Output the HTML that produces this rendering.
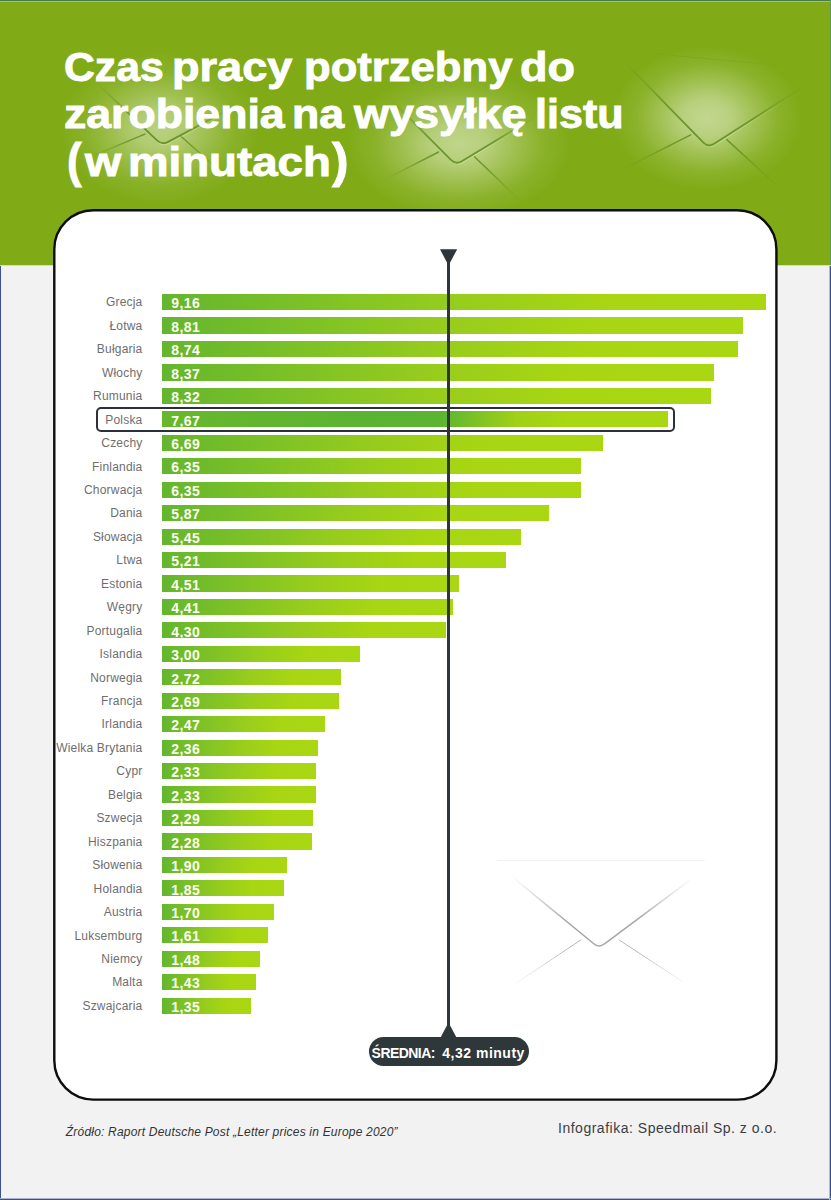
<!DOCTYPE html>
<html lang="pl"><head><meta charset="utf-8"><title>Czas pracy potrzebny do zarobienia na wysyłkę listu</title>
<style>
*{box-sizing:border-box;margin:0;padding:0}
html,body{width:831px;height:1200px;overflow:hidden}
body{position:relative;background:#f2f2f2;font-family:"Liberation Sans",sans-serif}
.abs{position:absolute}
#hdr{left:0;top:0;width:831px;height:265px;background:#80ab17;overflow:hidden}
.glow{position:absolute;border-radius:50%}
.tw{position:absolute;color:#fff;font-weight:bold;font-size:41px;line-height:48px;white-space:nowrap;transform-origin:0 0;-webkit-text-stroke:.9px #fff}
#card{left:54px;top:209px;width:723px;height:889px;background:#fff;border:2px solid #0d0d0d;border-radius:40px}
.lab{position:absolute;left:0;width:142.5px;text-align:right;font-size:12px;line-height:16px;padding-top:.4px;color:#6e6e6e;letter-spacing:.2px;white-space:nowrap}
.bar{position:absolute;left:162px;height:16.2px;background:linear-gradient(90deg,#64b62f 0%,#98cd1d 50%,#a8d612 74%,#a9d712 100%)}
.val{position:absolute;left:171.3px;font-size:14px;font-weight:bold;line-height:16px;color:#fdfff0;letter-spacing:.45px;white-space:nowrap}
#pl{left:96px;top:407px;width:579px;height:25px;border:2px solid #2c303a;border-radius:5px}
#ln{left:447px;top:258px;width:3px;height:770px;background:#2f353b}
#pill{left:369px;top:1037px;width:160px;height:29px;border-radius:14.5px;background:#2e3739}
.pt{top:1039.2px;color:#fff;font-weight:bold;font-size:14px;line-height:29px;white-space:nowrap}
#src{left:65.8px;top:1123.5px;font-style:italic;font-size:12px;line-height:16px;color:#333;letter-spacing:.2px;white-space:nowrap}
#inf{left:558px;top:1118.8px;font-size:14px;line-height:18px;color:#3a3f45;letter-spacing:.51px;white-space:nowrap}
</style></head><body>
<div id="hdr" class="abs">
<svg class="abs" style="left:0;top:0" width="831" height="266" viewBox="0 0 831 266"><defs><radialGradient id="g1" cx="160" cy="128" r="100" gradientUnits="userSpaceOnUse" gradientTransform="translate(0 128) scale(1 0.760) translate(0 -128)"><stop offset="0" stop-color="#fff" stop-opacity="0.45"/><stop offset=".25" stop-color="#fff" stop-opacity="0.387"/><stop offset=".5" stop-color="#fff" stop-opacity="0.225"/><stop offset=".75" stop-color="#fff" stop-opacity="0.077"/><stop offset="1" stop-color="#fff" stop-opacity="0"/></radialGradient><radialGradient id="l1" cx="160" cy="128" r="80" gradientUnits="userSpaceOnUse"><stop offset="0" stop-color="#5f8a22" stop-opacity=".95"/><stop offset=".45" stop-color="#648f20" stop-opacity=".8"/><stop offset="1" stop-color="#6f9a1c" stop-opacity="0"/></radialGradient><radialGradient id="h1" cx="160" cy="128" r="64" gradientUnits="userSpaceOnUse"><stop offset="0" stop-color="#e4f2c0" stop-opacity=".55"/><stop offset="1" stop-color="#e4f2c0" stop-opacity="0"/></radialGradient><radialGradient id="g2" cx="459" cy="144" r="112" gradientUnits="userSpaceOnUse" gradientTransform="translate(0 144) scale(1 0.661) translate(0 -144)"><stop offset="0" stop-color="#fff" stop-opacity="0.5"/><stop offset=".25" stop-color="#fff" stop-opacity="0.430"/><stop offset=".5" stop-color="#fff" stop-opacity="0.250"/><stop offset=".75" stop-color="#fff" stop-opacity="0.085"/><stop offset="1" stop-color="#fff" stop-opacity="0"/></radialGradient><radialGradient id="l2" cx="459" cy="144" r="85" gradientUnits="userSpaceOnUse"><stop offset="0" stop-color="#5f8a22" stop-opacity=".95"/><stop offset=".45" stop-color="#648f20" stop-opacity=".8"/><stop offset="1" stop-color="#6f9a1c" stop-opacity="0"/></radialGradient><radialGradient id="h2" cx="459" cy="144" r="68" gradientUnits="userSpaceOnUse"><stop offset="0" stop-color="#e4f2c0" stop-opacity=".55"/><stop offset="1" stop-color="#e4f2c0" stop-opacity="0"/></radialGradient><radialGradient id="g3" cx="707" cy="118" r="95" gradientUnits="userSpaceOnUse" gradientTransform="translate(0 118) scale(1 0.758) translate(0 -118)"><stop offset="0" stop-color="#fff" stop-opacity="0.52"/><stop offset=".25" stop-color="#fff" stop-opacity="0.447"/><stop offset=".5" stop-color="#fff" stop-opacity="0.260"/><stop offset=".75" stop-color="#fff" stop-opacity="0.088"/><stop offset="1" stop-color="#fff" stop-opacity="0"/></radialGradient><radialGradient id="l3" cx="707" cy="118" r="105" gradientUnits="userSpaceOnUse"><stop offset="0" stop-color="#5f8a22" stop-opacity=".95"/><stop offset=".45" stop-color="#648f20" stop-opacity=".8"/><stop offset="1" stop-color="#6f9a1c" stop-opacity="0"/></radialGradient><radialGradient id="h3" cx="707" cy="118" r="84" gradientUnits="userSpaceOnUse"><stop offset="0" stop-color="#e4f2c0" stop-opacity=".55"/><stop offset="1" stop-color="#e4f2c0" stop-opacity="0"/></radialGradient></defs><ellipse cx="160" cy="128" rx="100" ry="76" fill="url(#g1)"/><path d="M144.8 134.1L96 154.6M180.9 136.3L212 164" stroke="url(#l1)" stroke-width="1.5" fill="none" stroke-linecap="round"/><path d="M96.0 82.5L156.9 140.4Q162.0 145.2 168.2 141.9L256.0 95.0" transform="translate(0.6 1.3)" stroke="url(#h1)" stroke-width="1.2" fill="none"/><path d="M96.0 82.5L156.9 140.4Q162.0 145.2 168.2 141.9L256.0 95.0" stroke="url(#l1)" stroke-width="1.9" fill="none" stroke-linecap="round"/><ellipse cx="459" cy="144" rx="112" ry="74" fill="url(#g2)"/><path d="M438.6 152L371.3 186.4M474.5 156.7L521.5 202" stroke="url(#l2)" stroke-width="1.5" fill="none" stroke-linecap="round"/><path d="M380.7 89.4L450.9 159.8Q455.8 164.8 461.8 161.2L534.0 117.5" transform="translate(0.6 1.3)" stroke="url(#h2)" stroke-width="1.2" fill="none"/><path d="M380.7 89.4L450.9 159.8Q455.8 164.8 461.8 161.2L534.0 117.5" stroke="url(#l2)" stroke-width="1.9" fill="none" stroke-linecap="round"/><ellipse cx="707" cy="118" rx="95" ry="72" fill="url(#g3)"/><path d="M690.7 134.8L622 169.7M726.8 139.6L785 193" stroke="url(#l3)" stroke-width="1.5" fill="none" stroke-linecap="round"/><path d="M625.0 62.5L703.4 142.6Q708.3 147.6 714.2 143.8L814.0 80.0" transform="translate(0.6 1.3)" stroke="url(#h3)" stroke-width="1.2" fill="none"/><path d="M625.0 62.5L703.4 142.6Q708.3 147.6 714.2 143.8L814.0 80.0" stroke="url(#l3)" stroke-width="1.9" fill="none" stroke-linecap="round"/><path d="M625 51L818 69" stroke="url(#l3)" stroke-width="1" fill="none" opacity=".5"/></svg>
</div>
<div class="tw" style="left:64.37px;top:42.60px;transform:scaleX(1.0407)">Czas</div>
<div class="tw" style="left:171.92px;top:42.60px;transform:scaleX(1.1006)">pracy</div>
<div class="tw" style="left:303.53px;top:42.60px;transform:scaleX(1.0638)">potrzebny</div>
<div class="tw" style="left:519.75px;top:42.60px;transform:scaleX(1.0970)">do</div>
<div class="tw" style="left:64.17px;top:89.60px;transform:scaleX(1.0881)">zarobienia</div>
<div class="tw" style="left:292.05px;top:89.60px;transform:scaleX(1.0887)">na</div>
<div class="tw" style="left:353.80px;top:89.60px;transform:scaleX(1.0976)">wysyłkę</div>
<div class="tw" style="left:534.77px;top:89.60px;transform:scaleX(1.0516)">listu</div>
<div class="tw" style="left:84.50px;top:138.00px;transform:scaleX(1.1361)">w</div>
<div class="tw" style="left:128.18px;top:138.00px;transform:scaleX(1.1129)">minutach</div>
<div class="tw" style="left:66.50px;top:130.50px;font-size:48.5px;line-height:58.20px;transform:scaleX(0.9072)">(</div>
<div class="tw" style="left:332.40px;top:130.50px;font-size:48.5px;line-height:58.20px;transform:scaleX(1.0272)">)</div>
<div class="abs" style="left:0;top:0;width:831px;height:1px;background:#4b7a4c"></div>
<div class="abs" style="left:0;top:1px;width:831px;height:1px;background:#9cc95a"></div>
<div class="abs" style="left:0;top:266px;width:1px;height:934px;background:#3d4f8c"></div>
<div class="abs" style="left:830px;top:266px;width:1px;height:934px;background:#3d4f8c"></div>
<div class="abs" style="left:830px;top:0;width:1px;height:266px;background:#5f9a5a"></div>
<div class="abs" style="left:0;top:1198px;width:831px;height:1px;background:#a9b1cf"></div><div class="abs" style="left:0;top:1199px;width:831px;height:1px;background:#3d4f8c"></div><div class="abs" style="left:829px;top:266px;width:1px;height:934px;background:#aeb6d2"></div>
<div class="abs" style="left:0;top:265px;width:831px;height:1px;background:#cfe3a4"></div>
<svg class="abs" style="left:40px;top:200px" width="750" height="910" viewBox="40 200 750 910"><rect x="54.3" y="210.2" width="722.1" height="889.4" rx="39" ry="39" fill="#fff" stroke="#0d0d0d" stroke-width="2.4"/></svg>
<svg class="abs" style="left:480px;top:840px" width="260" height="170" viewBox="480 840 260 170"><defs><linearGradient id="wl" x1="511" y1="0" x2="693" y2="0" gradientUnits="userSpaceOnUse"><stop offset="0" stop-color="#bbb" stop-opacity="0"/><stop offset=".3" stop-color="#a6a6a6" stop-opacity="1"/><stop offset=".7" stop-color="#a6a6a6" stop-opacity="1"/><stop offset="1" stop-color="#bbb" stop-opacity="0"/></linearGradient></defs><path d="M511.6 876.3L593.5 943.5Q599 948.5 604.5 943.8L692.3 878.3" stroke="url(#wl)" stroke-width="1.5" fill="none"/><path d="M581 939.8L515.6 983.5M618.9 939.8L682.4 981.5" stroke="url(#wl)" stroke-width="1" fill="none" opacity=".8"/><path d="M497 860.5H705" stroke="#f1f1f1" stroke-width="1"/></svg>
<div class="lab" style="top:294.00px">Grecja</div><div class="bar" style="top:294.00px;width:603.9px"></div><div class="val" style="top:295.30px">9,16</div>
<div class="lab" style="top:317.45px">Łotwa</div><div class="bar" style="top:317.45px;width:580.8px"></div><div class="val" style="top:318.75px">8,81</div>
<div class="lab" style="top:340.90px">Bułgaria</div><div class="bar" style="top:340.90px;width:576.2px"></div><div class="val" style="top:342.20px">8,74</div>
<div class="lab" style="top:364.35px">Włochy</div><div class="bar" style="top:364.35px;width:551.8px"></div><div class="val" style="top:365.65px">8,37</div>
<div class="lab" style="top:387.80px">Rumunia</div><div class="bar" style="top:387.80px;width:548.5px"></div><div class="val" style="top:389.10px">8,32</div>
<div class="lab" style="top:411.25px">Polska</div><div class="bar" style="top:411.25px;width:505.7px;background:linear-gradient(90deg,#68b82c 0%,#5ab432 40%,#5cb531 55%,#9fd116 70%,#a9d712 80%)"></div><div class="val" style="top:412.55px">7,67</div>
<div class="lab" style="top:434.70px">Czechy</div><div class="bar" style="top:434.70px;width:441.1px"></div><div class="val" style="top:436.00px">6,69</div>
<div class="lab" style="top:458.15px">Finlandia</div><div class="bar" style="top:458.15px;width:418.7px"></div><div class="val" style="top:459.45px">6,35</div>
<div class="lab" style="top:481.60px">Chorwacja</div><div class="bar" style="top:481.60px;width:418.7px"></div><div class="val" style="top:482.90px">6,35</div>
<div class="lab" style="top:505.05px">Dania</div><div class="bar" style="top:505.05px;width:387.0px"></div><div class="val" style="top:506.35px">5,87</div>
<div class="lab" style="top:528.50px">Słowacja</div><div class="bar" style="top:528.50px;width:359.3px"></div><div class="val" style="top:529.80px">5,45</div>
<div class="lab" style="top:551.95px">Ltwa</div><div class="bar" style="top:551.95px;width:343.5px"></div><div class="val" style="top:553.25px">5,21</div>
<div class="lab" style="top:575.40px">Estonia</div><div class="bar" style="top:575.40px;width:297.3px"></div><div class="val" style="top:576.70px">4,51</div>
<div class="lab" style="top:598.85px">Węgry</div><div class="bar" style="top:598.85px;width:290.8px"></div><div class="val" style="top:600.15px">4,41</div>
<div class="lab" style="top:622.30px">Portugalia</div><div class="bar" style="top:622.30px;width:283.5px"></div><div class="val" style="top:623.60px">4,30</div>
<div class="lab" style="top:645.75px">Islandia</div><div class="bar" style="top:645.75px;width:197.8px"></div><div class="val" style="top:647.05px">3,00</div>
<div class="lab" style="top:669.20px">Norwegia</div><div class="bar" style="top:669.20px;width:179.3px"></div><div class="val" style="top:670.50px">2,72</div>
<div class="lab" style="top:692.65px">Francja</div><div class="bar" style="top:692.65px;width:177.4px"></div><div class="val" style="top:693.95px">2,69</div>
<div class="lab" style="top:716.10px">Irlandia</div><div class="bar" style="top:716.10px;width:162.8px"></div><div class="val" style="top:717.40px">2,47</div>
<div class="lab" style="top:739.55px">Wielka Brytania</div><div class="bar" style="top:739.55px;width:155.6px"></div><div class="val" style="top:740.85px">2,36</div>
<div class="lab" style="top:763.00px">Cypr</div><div class="bar" style="top:763.00px;width:153.6px"></div><div class="val" style="top:764.30px">2,33</div>
<div class="lab" style="top:786.45px">Belgia</div><div class="bar" style="top:786.45px;width:153.6px"></div><div class="val" style="top:787.75px">2,33</div>
<div class="lab" style="top:809.90px">Szwecja</div><div class="bar" style="top:809.90px;width:151.0px"></div><div class="val" style="top:811.20px">2,29</div>
<div class="lab" style="top:833.35px">Hiszpania</div><div class="bar" style="top:833.35px;width:150.3px"></div><div class="val" style="top:834.65px">2,28</div>
<div class="lab" style="top:856.80px">Słowenia</div><div class="bar" style="top:856.80px;width:125.3px"></div><div class="val" style="top:858.10px">1,90</div>
<div class="lab" style="top:880.25px">Holandia</div><div class="bar" style="top:880.25px;width:122.0px"></div><div class="val" style="top:881.55px">1,85</div>
<div class="lab" style="top:903.70px">Austria</div><div class="bar" style="top:903.70px;width:112.1px"></div><div class="val" style="top:905.00px">1,70</div>
<div class="lab" style="top:927.15px">Luksemburg</div><div class="bar" style="top:927.15px;width:106.1px"></div><div class="val" style="top:928.45px">1,61</div>
<div class="lab" style="top:950.60px">Niemcy</div><div class="bar" style="top:950.60px;width:97.6px"></div><div class="val" style="top:951.90px">1,48</div>
<div class="lab" style="top:974.05px">Malta</div><div class="bar" style="top:974.05px;width:94.3px"></div><div class="val" style="top:975.35px">1,43</div>
<div class="lab" style="top:997.50px">Szwajcaria</div><div class="bar" style="top:997.50px;width:89.0px"></div><div class="val" style="top:998.80px">1,35</div>
<div id="pl" class="abs"></div>
<div id="ln" class="abs"></div>
<svg class="abs" style="left:430px;top:240px" width="40" height="30" viewBox="430 240 40 30"><path d="M440 249.2H457.2L448.5 265.5Z" fill="#2f353b"/></svg>
<svg class="abs" style="left:430px;top:1015px" width="40" height="30" viewBox="430 1015 40 30"><path d="M448.5 1022.5L457 1038.5H440Z" fill="#2e3739"/></svg>
<div id="pill" class="abs"></div><div class="abs pt" style="left:371.6px;letter-spacing:-.55px">ŚREDNIA:</div><div class="abs pt" style="left:442.3px;letter-spacing:.5px">4,32 minuty</div>
<div id="src" class="abs">Źródło: Raport Deutsche Post „Letter prices in Europe 2020”</div>
<div id="inf" class="abs">Infografika: Speedmail Sp. z o.o.</div>
</body></html>
